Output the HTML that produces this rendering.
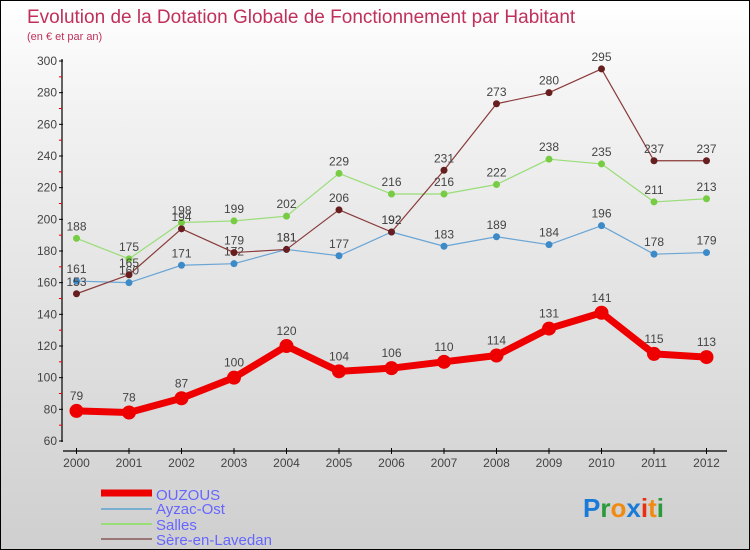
<!DOCTYPE html>
<html><head><meta charset="utf-8"><style>
body{margin:0}
#c{width:750px;height:550px;position:relative;box-sizing:border-box;border:1px solid #000;background:linear-gradient(#fff,#f2f2f2 20%,#cfcfcf);font-family:"Liberation Sans",sans-serif;overflow:hidden}
svg{position:absolute;left:0;top:0}
</style></head><body>
<div id="c">
<svg id="s" width="750" height="550">
<text x="26" y="22" font-size="19" fill="#c0305a">Evolution de la Dotation Globale de Fonctionnement par Habitant</text>
<text x="26" y="39" font-size="11" fill="#c0305a">(en € et par an)</text>
<g id="axes"></g><g id="series"></g>
<g>
<line x1="100" y1="492" x2="151" y2="492" stroke="#e00" stroke-width="7"/>
<text x="155" y="499" font-size="15" fill="#6666ff">OUZOUS</text>
<line x1="100" y1="508" x2="151" y2="508" stroke="#7aaed0" stroke-width="2"/>
<text x="155" y="513" font-size="15" fill="#6666ff">Ayzac-Ost</text>
<line x1="100" y1="523" x2="151" y2="523" stroke="#99dd77" stroke-width="2"/>
<text x="155" y="529" font-size="15" fill="#6666ff">Salles</text>
<line x1="100" y1="538" x2="151" y2="538" stroke="#997777" stroke-width="2"/>
<text x="155" y="544" font-size="15" fill="#6666ff">Sère-en-Lavedan</text>
</g>
<g font-size="26" font-weight="bold">
<text x="582" y="516"><tspan fill="#1a7ad8">P</tspan><tspan fill="#2a9a3a">r</tspan><tspan fill="#f08a10">o</tspan><tspan fill="#1a7ad8">x</tspan><tspan fill="#e83010">i</tspan><tspan fill="#f08a10">t</tspan><tspan fill="#2a9a3a">i</tspan></text>
</g>
</svg>
</div>
<script>
const years=[2000,2001,2002,2003,2004,2005,2006,2007,2008,2009,2010,2011,2012];
const ouzous=[79,78,87,100,120,104,106,110,114,131,141,115,113];
const ayzac=[161,160,171,172,181,177,192,183,189,184,196,178,179];
const salles=[188,175,198,199,202,229,216,216,222,238,235,211,213];
const sere=[153,165,194,179,181,206,192,231,273,280,295,237,237];
const yTicks=[60,80,100,120,140,160,180,200,220,240,260,280,300];
const NS="http://www.w3.org/2000/svg";
function X(i){return 75.5+i*52.5;}
function Y(v){return 440-(v-60)*380/240;}
function mk(t,a,p){const e=document.createElementNS(NS,t);for(const k in a)e.setAttribute(k,a[k]);p.appendChild(e);return e;}
const ax=document.getElementById('axes');
let l=mk('line',{x1:61,y1:58,x2:61,y2:441,stroke:'#000','stroke-width':1.2},ax);


l=mk('line',{x1:62,y1:450,x2:726,y2:450,stroke:'#000','stroke-width':1.2},ax);


yTicks.forEach(v=>{
 mk('line',{x1:58,y1:Y(v),x2:62,y2:Y(v),stroke:'#000'},ax);
 if(v<300)mk('line',{x1:58,y1:Y(v+10),x2:61,y2:Y(v+10),stroke:'#e00'},ax);
 const t=mk('text',{x:56,y:Y(v)+4,'font-size':12,fill:'#444','text-anchor':'end'},ax);
 t.textContent=v;
 
 
});
years.forEach((y,i)=>{
 mk('line',{x1:X(i),y1:447,x2:X(i),y2:453,stroke:'#000'},ax);
 const t=mk('text',{x:X(i),y:466,'font-size':12,fill:'#444','text-anchor':'middle'},ax);
 t.textContent=y;
 
 
});
const sg=document.getElementById('series');
function draw(data,color,dot,w,r,name,fs){
 const g=mk('g',{},sg);
 
 
 const pl=mk('polyline',{points:data.map((v,i)=>X(i)+','+Y(v)).join(' '),fill:'none',stroke:color,'stroke-width':w,'stroke-linejoin':'round'},g);
 
 
 data.forEach((v,i)=>{
  const c=mk('circle',{cx:X(i),cy:Y(v),r:r,fill:dot},g);
  
  
  const t=mk('text',{x:X(i),y:Y(v)-8-(r>4?3:0),'font-size':fs,fill:'#444','text-anchor':'middle'},g);
  t.textContent=v;
  
  
 });
}
draw(ayzac,'#6aa5d5','#3d8ac8',1.2,3.5,'ayzac',12);
draw(salles,'#99dd77','#77cc44',1.2,3.5,'salles',12);
draw(sere,'#8a3a3a','#661e1e',1.2,3.5,'sere',12);
draw(ouzous,'#ee0000','#ee0000',7,7,'ouzous',12);
</script>
</body></html>
